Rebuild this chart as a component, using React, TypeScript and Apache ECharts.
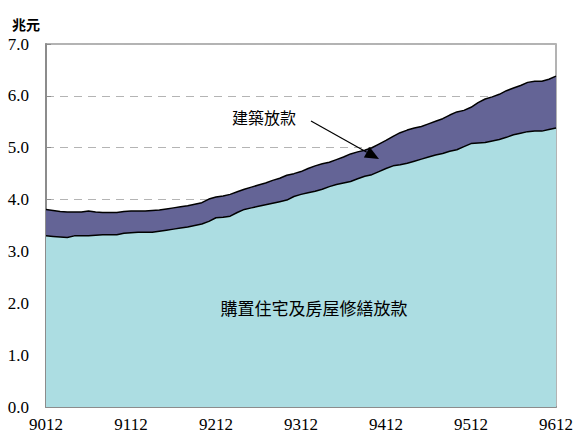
import React, { useEffect, useRef } from "react";
import * as echarts from "echarts";

// Month labels: Dec 1990 (9012) to Dec 1996 (9612), monthly (ROC-year style YYMM)
const startYear = 90;
const monthCount = 73;
const categories: string[] = [];
for (let i = 0; i < monthCount; i++) {
  const m = (11 + i) % 12; // 0-based month, start December
  const y = startYear + Math.floor((11 + i) / 12);
  categories.push(`${y}${String(m + 1).padStart(2, "0")}`);
}

// 購置住宅及房屋修繕放款 (trillion)
const housingLoans = [
  3.30, 3.29, 3.28, 3.27, 3.30, 3.30, 3.30, 3.31, 3.32, 3.32, 3.32, 3.35,
  3.36, 3.37, 3.37, 3.37, 3.39, 3.41, 3.43, 3.45, 3.47, 3.50, 3.53, 3.58,
  3.65, 3.66, 3.68, 3.75, 3.81, 3.84, 3.87, 3.90, 3.93, 3.96, 3.99, 4.06,
  4.10, 4.13, 4.16, 4.20, 4.25, 4.29, 4.32, 4.35, 4.40, 4.45, 4.48, 4.54,
  4.60, 4.65, 4.67, 4.70, 4.74, 4.78, 4.82, 4.86, 4.89, 4.93, 4.96, 5.02,
  5.08, 5.09, 5.10, 5.13, 5.16, 5.20, 5.25, 5.28, 5.31, 5.32, 5.32, 5.35,
  5.38,
];

// Total (housing + 建築放款) (trillion)
const totalLoans = [
  3.81, 3.79, 3.77, 3.76, 3.76, 3.76, 3.78, 3.76, 3.75, 3.75, 3.75, 3.77,
  3.78, 3.78, 3.78, 3.79, 3.80, 3.82, 3.84, 3.86, 3.88, 3.91, 3.94, 4.01,
  4.05, 4.07, 4.10, 4.15, 4.20, 4.24, 4.28, 4.32, 4.37, 4.41, 4.47, 4.50,
  4.54, 4.60, 4.65, 4.69, 4.72, 4.77, 4.82, 4.88, 4.92, 4.95, 5.00, 5.07,
  5.14, 5.22, 5.29, 5.34, 5.38, 5.41, 5.46, 5.51, 5.56, 5.63, 5.69, 5.72,
  5.78, 5.87, 5.94, 5.98, 6.03, 6.10, 6.15, 6.20, 6.26, 6.28, 6.28, 6.32,
  6.38,
];

const yTickLabels = ["0.0", "1.0", "2.0", "3.0", "4.0", "5.0", "6.0", "7.0"];

const serif = "'Times New Roman', 'Liberation Serif', serif";
const cjk = "Noto Sans CJK TC";

export default function App() {
  const ref = useRef<HTMLDivElement>(null);
  useEffect(() => {
    if (!ref.current) return;
    const chart = echarts.init(ref.current, undefined, { renderer: "svg" });
    const tip = [379, 159];
    const ux = 0.873, uy = 0.488;
    const hl = 14, hw = 6;
    const bx = tip[0] - hl * ux, by = tip[1] - hl * uy;
    const nx = -uy, ny = ux;
    chart.setOption({
      animation: false,
      backgroundColor: "#ffffff",
      grid: {
        left: 46,
        right: 19,
        top: 44,
        bottom: 30,
        show: true,
        borderColor: "#9a9a9a",
        borderWidth: 1.5,
        backgroundColor: "transparent",
      },
      xAxis: {
        type: "category",
        data: categories,
        boundaryGap: false,
        axisLine: { lineStyle: { color: "#8c8c8c", width: 2 } },
        axisTick: {
          inside: true,
          length: 5,
          interval: (i: number) => i % 14 === 0,
          lineStyle: { color: "#8c8c8c" },
        },
        axisLabel: {
          interval: (i: number) => i % 12 === 0,
          margin: 9,
          fontFamily: serif,
          fontSize: 17,
          color: "#000",
        },
        splitLine: { show: false },
      },
      yAxis: {
        type: "value",
        min: 0,
        max: 7,
        interval: 1,
        axisLine: { show: true, lineStyle: { color: "#8c8c8c", width: 2 } },
        axisTick: { show: true, inside: true, length: 5, lineStyle: { color: "#8c8c8c" } },
        axisLabel: {
          formatter: (v: number) => yTickLabels[Math.round(v)] ?? v.toFixed(1),
          margin: 17,
          fontFamily: serif,
          fontSize: 17,
          color: "#000",
        },
        splitLine: { show: true, lineStyle: { color: "#b4b4b4", type: [8, 6], width: 1.2 } },
      },
      series: [
        {
          name: "建築放款",
          type: "line",
          data: totalLoans,
          symbol: "none",
          lineStyle: { color: "#000", width: 1.5 },
          areaStyle: { color: "#646496", opacity: 1 },
          z: 2,
        },
        {
          name: "購置住宅及房屋修繕放款",
          type: "line",
          data: housingLoans,
          symbol: "none",
          lineStyle: { color: "#000", width: 1.5 },
          areaStyle: { color: "#acdde2", opacity: 1 },
          z: 3,
        },
      ],
      graphic: [
        {
          type: "text",
          left: 12,
          top: 17,
          style: { text: "兆元", fontFamily: cjk, fontSize: 14, fontWeight: "bold", fill: "#000" },
        },
        {
          type: "text",
          x: 264,
          y: 117,
          style: {
            text: "建築放款",
            fontFamily: cjk,
            fontSize: 16,
            fill: "#000",
            align: "center",
            verticalAlign: "middle",
          },
          z: 10,
        },
        {
          type: "text",
          x: 314,
          y: 307,
          style: {
            text: "購置住宅及房屋修繕放款",
            fontFamily: cjk,
            fontSize: 17,
            fill: "#000",
            align: "center",
            verticalAlign: "middle",
          },
          z: 10,
        },
        {
          type: "line",
          shape: { x1: 311, y1: 121, x2: bx, y2: by },
          style: { stroke: "#000", lineWidth: 1.2 },
          z: 10,
        },
        {
          type: "polygon",
          shape: {
            points: [
              [tip[0], tip[1]],
              [bx + hw * nx, by + hw * ny],
              [bx - hw * nx, by - hw * ny],
            ],
          },
          style: { fill: "#000" },
          z: 10,
        },
      ],
    });
    return () => chart.dispose();
  }, []);
  return (
    <div
      ref={ref}
      style={{ position: "absolute", left: 0, top: 0, width: 576, height: 437 }}
    />
  );
}
